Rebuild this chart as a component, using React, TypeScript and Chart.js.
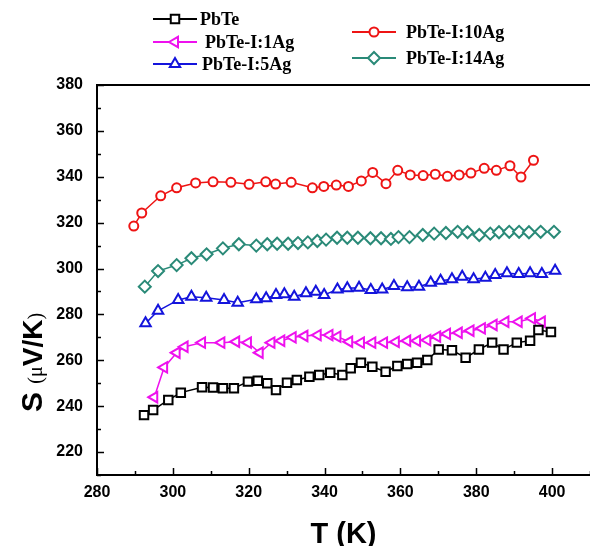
import React, { useEffect, useRef } from 'react';
import { Chart, registerables } from 'chart.js';

Chart.register(...registerables);

// ---- Data (T in K, S in µV/K) ----
const T_PbTe = [292.4, 294.8, 298.8, 302.1, 307.7, 310.6, 313.2, 316.1, 319.8, 322.4, 324.9, 327.2, 330.1, 332.7, 336.0, 338.6, 341.5, 344.7, 346.9, 349.6, 352.6, 356.1, 359.2, 361.8, 364.4, 367.1, 370.1, 373.6, 377.2, 380.7, 384.2, 387.2, 390.7, 394.2, 396.4, 399.7];
const S_PbTe = [236.1, 238.3, 242.7, 245.9, 248.2, 248.1, 247.8, 247.8, 250.7, 251.1, 250.0, 247.0, 250.2, 251.4, 252.8, 253.6, 254.6, 253.6, 256.5, 258.9, 257.2, 255.0, 257.5, 258.4, 258.9, 260.1, 264.7, 264.4, 261.1, 264.7, 267.7, 264.7, 267.7, 268.5, 273.2, 272.3];

const T_1Ag = [295.1, 297.7, 301.0, 303.1, 307.7, 312.8, 316.7, 319.8, 322.9, 326.0, 328.6, 331.6, 334.7, 338.2, 341.3, 343.4, 346.5, 349.6, 352.6, 355.7, 358.8, 361.8, 364.4, 367.1, 369.7, 372.3, 375.4, 378.5, 381.5, 384.6, 387.7, 391.2, 394.7, 397.3];
const S_1Ag = [243.9, 256.9, 263.3, 265.9, 267.7, 267.7, 268.1, 267.7, 263.3, 267.7, 268.5, 270.0, 270.6, 271.0, 271.0, 270.3, 268.1, 267.7, 267.7, 267.7, 268.0, 268.5, 268.5, 268.8, 270.3, 271.5, 272.0, 272.9, 273.9, 275.4, 276.8, 276.8, 278.3, 276.8];

const T_5Ag = [292.8, 296.1, 301.4, 304.9, 308.8, 313.5, 317.1, 322.0, 324.6, 327.2, 329.4, 332.0, 335.1, 337.7, 339.9, 343.4, 346.0, 349.1, 352.2, 355.2, 358.3, 361.8, 364.9, 368.0, 370.6, 373.6, 376.3, 379.3, 382.4, 385.0, 388.1, 391.2, 394.2, 397.3, 400.8];
const S_5Ag = [276.1, 281.6, 286.3, 287.7, 287.3, 286.3, 285.1, 286.6, 287.0, 288.5, 288.8, 287.7, 289.2, 289.9, 288.5, 290.9, 291.4, 291.6, 290.6, 290.9, 292.4, 291.8, 292.1, 293.8, 294.7, 295.3, 296.4, 295.3, 296.0, 297.2, 297.9, 297.6, 297.9, 297.6, 299.0];

const T_10Ag = [289.7, 291.8, 296.8, 301.0, 306.0, 310.6, 315.3, 320.1, 324.5, 327.1, 331.2, 336.8, 339.8, 343.1, 346.3, 349.7, 352.7, 356.2, 359.3, 362.6, 366.0, 369.2, 372.4, 375.5, 378.6, 382.1, 385.3, 388.9, 391.8, 395.1];
const S_10Ag = [318.5, 324.2, 331.7, 335.2, 337.3, 337.8, 337.6, 336.7, 337.8, 336.8, 337.6, 335.2, 335.8, 336.4, 335.8, 338.2, 341.9, 337.0, 342.8, 340.8, 340.5, 341.1, 340.2, 340.8, 341.6, 343.7, 342.8, 344.8, 339.9, 347.2];

const T_14Ag = [292.6, 296.1, 301.0, 304.9, 308.9, 313.2, 317.4, 322.0, 324.9, 327.5, 330.4, 333.0, 335.6, 338.1, 340.4, 343.3, 346.0, 348.8, 352.1, 354.9, 357.5, 359.5, 362.4, 365.9, 368.9, 372.0, 375.1, 377.7, 380.8, 383.7, 386.0, 388.7, 391.3, 393.9, 397.0, 400.5];
const S_14Ag = [292.1, 298.9, 301.5, 304.5, 306.2, 308.8, 310.6, 310.0, 310.6, 310.8, 310.8, 311.1, 311.4, 312.0, 312.6, 313.4, 313.4, 313.4, 313.2, 313.2, 312.9, 313.7, 313.7, 314.6, 315.2, 315.5, 316.0, 315.8, 314.6, 315.2, 315.8, 316.0, 316.0, 315.8, 316.0, 316.0];

const SERIES_NAMES = ['PbTe', 'PbTe-I:1Ag', 'PbTe-I:5Ag', 'PbTe-I:10Ag', 'PbTe-I:14Ag'];
const SERIES_T = [T_PbTe, T_1Ag, T_5Ag, T_10Ag, T_14Ag];
const SERIES_S = [S_PbTe, S_1Ag, S_5Ag, S_10Ag, S_14Ag];
const SERIES_COLORS = ['#000000', '#ee11ee', '#1414dc', '#ee1414', '#2a8a78'];
const SERIES_STYLES = ['rect', 'triangle', 'triangle', 'circle', 'rectRot'];
const SERIES_ROT = [0, 270, 0, 0, 0];
const SERIES_RADIUS = [6, 6, 6, 4.5, 6];

const X_MIN = 280;
const X_MAX = 410;
const Y_MIN = 210;
const Y_MAX = 380;
const X_TICKS = [280, 290, 300, 310, 320, 330, 340, 350, 360, 370, 380, 390, 400, 410];
const Y_TICKS = [210, 220, 230, 240, 250, 260, 270, 280, 290, 300, 310, 320, 330, 340, 350, 360, 370, 380];
const X_LABEL_STEP = 20;
const Y_LABEL_STEP = 20;

const X_TITLE = 'T (K)';

function drawMarker(ctx: CanvasRenderingContext2D, style: string, x: number, y: number, r: number, rot: number, color: string, lw: number) {
  ctx.save();
  ctx.strokeStyle = color;
  ctx.fillStyle = '#ffffff';
  ctx.lineWidth = lw;
  ctx.beginPath();
  if (style === 'rect') {
    const s = r * Math.SQRT1_2;
    ctx.rect(x - s, y - s, 2 * s, 2 * s);
  } else if (style === 'circle') {
    ctx.arc(x, y, r, 0, Math.PI * 2);
  } else if (style === 'rectRot') {
    ctx.moveTo(x, y - r);
    ctx.lineTo(x + r, y);
    ctx.lineTo(x, y + r);
    ctx.lineTo(x - r, y);
  } else {
    let a = (rot * Math.PI) / 180;
    for (let k = 0; k < 3; k++) {
      const px = x + Math.sin(a) * r;
      const py = y - Math.cos(a) * r;
      if (k === 0) ctx.moveTo(px, py);
      else ctx.lineTo(px, py);
      a += (2 * Math.PI) / 3;
    }
  }
  ctx.closePath();
  ctx.fill();
  ctx.stroke();
  ctx.restore();
}

const LEGEND_POS = [
  { x: 153, y: 19 },
  { x: 153, y: 42 },
  { x: 153, y: 64 },
  { x: 352, y: 32 },
  { x: 352, y: 58 },
];
const LEGEND_TEXT_X = [200, 205, 202, 406, 406];

const decorPlugin = {
  id: 'decor',
  afterDraw(chart: any) {
    const ctx: CanvasRenderingContext2D = chart.ctx;
    const { left, right, top, bottom } = chart.chartArea;
    const xs = chart.scales.x;
    const ys = chart.scales.y;
    ctx.save();
    ctx.strokeStyle = '#000';
    ctx.lineWidth = 2;
    // top frame line
    ctx.beginPath();
    ctx.moveTo(left - 1, top);
    ctx.lineTo(right, top);
    ctx.stroke();
    // inward ticks
    ctx.lineWidth = 1.5;
    ctx.beginPath();
    for (const v of X_TICKS) {
      const px = Math.round(xs.getPixelForValue(v)) + 0.5;
      const len = v % X_LABEL_STEP === 0 ? 7 : 4;
      ctx.moveTo(px, bottom);
      ctx.lineTo(px, bottom - len);
    }
    for (const v of Y_TICKS) {
      const py = Math.round(ys.getPixelForValue(v)) + 0.5;
      const len = v % Y_LABEL_STEP === 0 ? 7 : 4;
      ctx.moveTo(left, py);
      ctx.lineTo(left + len, py);
    }
    ctx.stroke();

    // x title
    ctx.fillStyle = '#000';
    ctx.font = 'bold 29px "Liberation Sans", Arial, sans-serif';
    ctx.textAlign = 'center';
    ctx.textBaseline = 'alphabetic';
    ctx.fillText(X_TITLE, (left + right) / 2, 543);

    // y title (rotated, mixed sizes)
    ctx.save();
    ctx.translate(42, 412);
    ctx.rotate(-Math.PI / 2);
    ctx.textAlign = 'left';
    ctx.textBaseline = 'alphabetic';
    const parts = [
      { t: 'S ', f: 'bold 30px "Liberation Sans", Arial, sans-serif' },
      { t: '(', f: '20px "Liberation Serif", serif' },
      { t: 'μ', f: '20px "Liberation Serif", serif' },
      { t: 'V/K', f: 'bold 28px "Liberation Sans", Arial, sans-serif' },
      { t: ')', f: '20px "Liberation Serif", serif' },
    ];
    let cx = 0;
    for (const p of parts) {
      ctx.font = p.f;
      ctx.fillText(p.t, cx, 0);
      cx += ctx.measureText(p.t).width;
    }
    ctx.restore();

    // legend
    for (let i = 0; i < SERIES_NAMES.length; i++) {
      const { x, y } = LEGEND_POS[i];
      ctx.strokeStyle = SERIES_COLORS[i];
      ctx.lineWidth = 2;
      ctx.beginPath();
      ctx.moveTo(x, y);
      ctx.lineTo(x + 44, y);
      ctx.stroke();
      drawMarker(ctx, SERIES_STYLES[i], x + 22, y, SERIES_RADIUS[i], SERIES_ROT[i], SERIES_COLORS[i], 2);
      ctx.fillStyle = '#000';
      ctx.font = 'bold 18px "Liberation Serif", "Times New Roman", serif';
      ctx.textAlign = 'left';
      ctx.textBaseline = 'middle';
      ctx.fillText(SERIES_NAMES[i], LEGEND_TEXT_X[i], y + 1);
    }
    ctx.restore();
  },
};

export default function App() {
  const ref = useRef<HTMLCanvasElement | null>(null);
  useEffect(() => {
    if (!ref.current) return;
    const datasets = SERIES_NAMES.map((name, i) => ({
      label: name,
      data: SERIES_T[i].map((t, j) => ({ x: t, y: SERIES_S[i][j] })),
      showLine: true,
      borderColor: SERIES_COLORS[i],
      borderWidth: 1.5,
      backgroundColor: '#ffffff',
      pointStyle: SERIES_STYLES[i] as any,
      pointRotation: SERIES_ROT[i],
      pointRadius: SERIES_RADIUS[i],
      pointBorderWidth: 2,
      pointBorderColor: SERIES_COLORS[i],
      pointBackgroundColor: '#ffffff',
      tension: 0,
    }));
    const tickFont = { family: '"Liberation Sans", Arial, sans-serif', size: 16, weight: 'bold' as const };
    const chart = new Chart(ref.current, {
      type: 'scatter',
      data: { datasets },
      options: {
        animation: false,
        responsive: false,
        devicePixelRatio: 1,
        layout: { autoPadding: false, padding: { left: 0, right: 0, top: 85, bottom: 0 } },
        plugins: { legend: { display: false }, tooltip: { enabled: false } },
        scales: {
          x: {
            type: 'linear',
            min: X_MIN,
            max: X_MAX,
            afterFit: (s: any) => { s.height = 71; s.paddingRight = 0; },
            afterBuildTicks: (s: any) => { s.ticks = X_TICKS.map((v) => ({ value: v })); },
            ticks: {
              callback: (v: any) => (Number(v) % X_LABEL_STEP === 0 && Number(v) !== X_MAX ? String(v) : ''),
              font: tickFont,
              color: '#000',
              padding: 8,
              maxRotation: 0,
              autoSkip: false,
            },
            grid: { display: true, drawOnChartArea: false, drawTicks: false },
            border: { display: true, color: '#000', width: 2 },
          },
          y: {
            type: 'linear',
            min: Y_MIN,
            max: Y_MAX,
            afterFit: (s: any) => { s.width = 97; },
            afterBuildTicks: (s: any) => { s.ticks = Y_TICKS.map((v) => ({ value: v })); },
            ticks: {
              callback: (v: any) => (Number(v) % Y_LABEL_STEP === 0 && Number(v) !== Y_MIN ? String(v) : ''),
              font: tickFont,
              color: '#000',
              padding: 14,
              autoSkip: false,
            },
            grid: { display: true, drawOnChartArea: false, drawTicks: false },
            border: { display: true, color: '#000', width: 2 },
          },
        },
      },
      plugins: [decorPlugin],
    });
    return () => chart.destroy();
  }, []);
  return (
    <canvas
      ref={ref}
      width={590}
      height={546}
      style={{ position: 'absolute', left: 0, top: 0, display: 'block', background: '#fff' }}
    />
  );
}
